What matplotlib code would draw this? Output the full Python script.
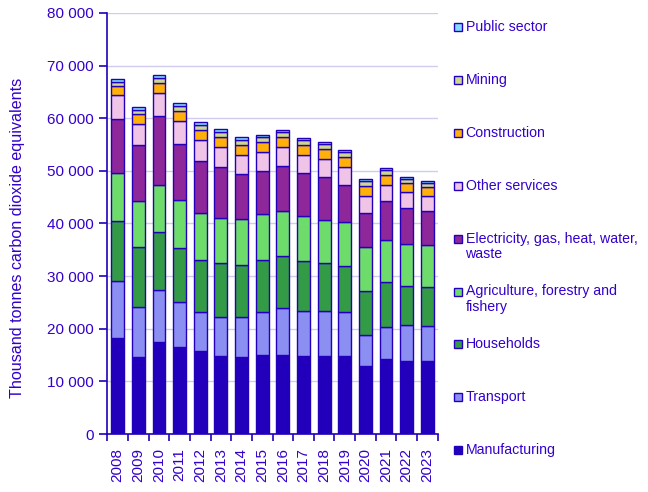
import matplotlib
matplotlib.use("Agg")
import matplotlib.pyplot as plt
from matplotlib.patches import Rectangle
from matplotlib.ticker import FuncFormatter

plt.rcParams['font.family'] = ['Liberation Sans', 'DejaVu Sans']

# data, thousand tonnes CO2 equivalents
years = ['2008', '2009', '2010', '2011', '2012', '2013', '2014', '2015',
         '2016', '2017', '2018', '2019', '2020', '2021', '2022', '2023']
manufacturing = [18.3, 14.6, 17.4, 16.5, 15.7, 14.8, 14.6, 15.0, 15.1, 14.9, 14.9, 14.9, 13.0, 14.2, 13.8, 13.8]
transport = [10.85, 9.6, 9.9, 8.5, 7.4, 7.5, 7.7, 8.1, 8.9, 8.4, 8.4, 8.2, 5.9, 6.2, 7.0, 6.8]
households = [11.4, 11.4, 11.1, 10.4, 10.0, 10.1, 9.9, 10.0, 9.9, 9.6, 9.1, 8.9, 8.3, 8.4, 7.4, 7.4]
agriculture = [9.1, 8.7, 8.9, 9.1, 8.9, 8.7, 8.7, 8.7, 8.5, 8.6, 8.3, 8.3, 8.4, 8.1, 7.95, 7.95]
electricity = [10.25, 10.6, 13.1, 10.6, 9.9, 9.65, 8.5, 8.2, 8.5, 8.1, 8.15, 7.0, 6.4, 7.4, 6.85, 6.45]
other_services = [4.45, 4.0, 4.4, 4.4, 4.0, 3.75, 3.6, 3.6, 3.6, 3.4, 3.45, 3.45, 3.25, 3.0, 3.0, 2.85]
construction = [1.8, 1.9, 1.9, 1.9, 1.9, 1.9, 1.9, 1.9, 1.9, 1.9, 1.9, 1.85, 1.9, 1.9, 1.7, 1.7]
mining = [0.8, 0.75, 0.9, 0.9, 0.9, 1.0, 1.0, 0.9, 1.0, 1.0, 0.9, 1.0, 1.0, 1.0, 0.8, 0.75]
public_sector = [0.5, 0.55, 0.6, 0.6, 0.6, 0.55, 0.5, 0.4, 0.35, 0.3, 0.4, 0.4, 0.4, 0.4, 0.35, 0.4]

series = [
    ('Manufacturing', manufacturing, '#2200BB'),
    ('Transport', transport, '#8C8FF2'),
    ('Households', households, '#339A46'),
    ('Agriculture, forestry and\nfishery', agriculture, '#6EDC6A'),
    ('Electricity, gas, heat, water,\nwaste', electricity, '#8E289A'),
    ('Other services', other_services, '#F0C4E6'),
    ('Construction', construction, '#FFB10A'),
    ('Mining', mining, '#CCD98C'),
    ('Public sector', public_sector, '#7FDDFF'),
]

txt = '#3300CC'
edge = '#2200BB'

fig = plt.figure(figsize=(6.48, 4.92), dpi=100)
ax = fig.add_axes([107.3/648, 1-434/492, 330.4/648, 421/492])

x = range(len(years))
bottom = [0.0]*len(years)
for name, vals, col in series:
    ax.bar(x, [v*1000 for v in vals], width=0.62, bottom=[b*1000 for b in bottom],
           color=col, edgecolor=edge, linewidth=1, zorder=3)
    bottom = [b+v for b, v in zip(bottom, vals)]

ax.set_xlim(-0.5, len(years)-0.5)
ax.set_ylim(0, 80000)
ax.set_yticks(range(0, 80001, 10000))
ax.yaxis.set_major_formatter(FuncFormatter(lambda v, p: f'{int(v):,}'.replace(',', ' ')))
ax.set_xticks(list(x))
ax.set_xticklabels(years, rotation=90)
ax.set_xticks([i-0.5 for i in range(len(years)+1)], minor=True)
ax.tick_params(axis='x', which='major', length=0, pad=10, labelsize=11, labelcolor=txt)
ax.tick_params(axis='x', which='minor', length=5, color=edge, width=1.2)
ax.tick_params(axis='y', length=5.5, color=edge, width=1.2, labelsize=11, labelcolor=txt, pad=4)
ax.grid(axis='y', color='#D0CCF0', linewidth=1, zorder=0)
for s in ['top', 'right']:
    ax.spines[s].set_visible(False)
for s in ['left', 'bottom']:
    ax.spines[s].set_color(edge)
    ax.spines[s].set_linewidth(1.2)

fig.text(18/648, 1-238/492, 'Thousand tonnes carbon dioxide equivalents', rotation=90,
         ha='center', va='center', color=txt, fontsize=11.6)

# legend built by hand, top entry first
for i, (name, vals, col) in enumerate(series[::-1]):
    yc = 27 + i*52.9
    fig.add_artist(Rectangle((453.5/648, 1-(yc+4)/492), 8/648, 8/492,
                             facecolor=col, edgecolor=edge, linewidth=1,
                             transform=fig.transFigure))
    fig.text(465.5/648, 1-(yc-7)/492, name, ha='left', va='top', color=txt,
             fontsize=10.2, linespacing=1.1)

fig.savefig('out.png', dpi=100)
